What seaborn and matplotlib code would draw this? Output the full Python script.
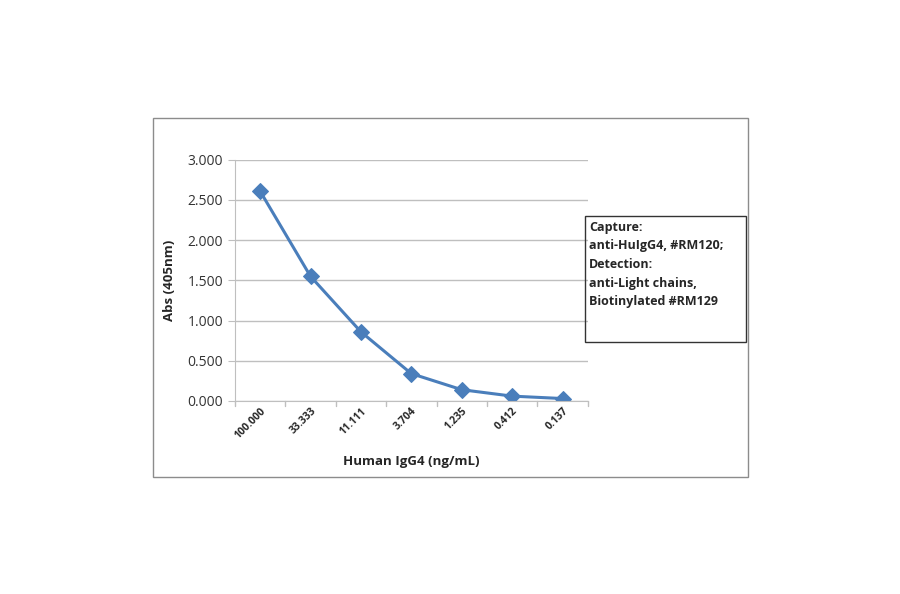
import matplotlib
matplotlib.use("Agg")
import matplotlib.pyplot as plt
import seaborn as sns
import pandas as pd
from matplotlib.patches import Rectangle

# Values
concentrations = ["100.000", "33.333", "11.111", "3.704", "1.235", "0.412", "0.137"]
absorbance = [2.61, 1.55, 0.86, 0.34, 0.14, 0.06, 0.03]
y_ticks = [0.0, 0.5, 1.0, 1.5, 2.0, 2.5, 3.0]

df = pd.DataFrame({"conc": concentrations, "abs": absorbance})

sns.set_style("white")
plt.rcParams["font.family"] = ["Open Sans", "DejaVu Sans"]

fig = plt.figure(figsize=(9, 5.94), dpi=100)
fig.patches.append(Rectangle((153 / 900, 1 - 477 / 594), 595 / 900, 359 / 594,
                             transform=fig.transFigure, fill=False,
                             edgecolor="#8c8c8c", linewidth=1))

ax = fig.add_axes([0.261, 0.325, 0.392, 0.406])
sns.lineplot(data=df, x="conc", y="abs", ax=ax, color="#4a7ebb", linewidth=2.2,
             marker="D", markersize=8, markeredgecolor="#4a7ebb", sort=False)

ax.set_xlim(-0.5, len(concentrations) - 0.5)
ax.set_ylim(0, 3.0)
ax.set_yticks(y_ticks)
ax.set_yticklabels([f"{v:.3f}" for v in y_ticks], fontsize=10, color="#333333")
ax.set_xticks(range(len(concentrations)))
ax.set_xticklabels(concentrations, rotation=45, ha="right", rotation_mode="anchor",
                   fontsize=7.5, fontweight="bold")
ax.grid(axis="y", color="#bfbfbf", linewidth=1)
for s in ["top", "right"]:
    ax.spines[s].set_visible(False)
ax.spines["left"].set_color("#bfbfbf")
ax.spines["bottom"].set_color("#bfbfbf")
ax.tick_params(axis="y", length=5, color="#bfbfbf", direction="out", left=True)
ax.tick_params(axis="x", length=0)
# category separators on x axis
for i in range(len(concentrations) + 1):
    ax.plot([i - 0.5, i - 0.5], [0, -0.06], color="#bfbfbf", lw=1, clip_on=False)
ax.set_xlabel("Human IgG4 (ng/mL)", fontsize=9.5, fontweight="bold", labelpad=10)
ax.set_ylabel("Abs (405nm)", fontsize=9.5, fontweight="bold", labelpad=8)

fig.text(585 / 900, 1 - 216 / 594, "", fontsize=1)
legend_box = Rectangle((585 / 900, 1 - 342 / 594), 161 / 900, 126 / 594,
                       transform=fig.transFigure, fill=False, edgecolor="#333333", linewidth=1)
fig.patches.append(legend_box)
fig.text(589 / 900, 1 - 221 / 594,
         "Capture:\nanti-HuIgG4, #RM120;\nDetection:\nanti-Light chains,\nBiotinylated #RM129",
         fontsize=9, fontweight="bold", va="top", ha="left", linespacing=1.55)

fig.savefig("out.png", dpi=100)
